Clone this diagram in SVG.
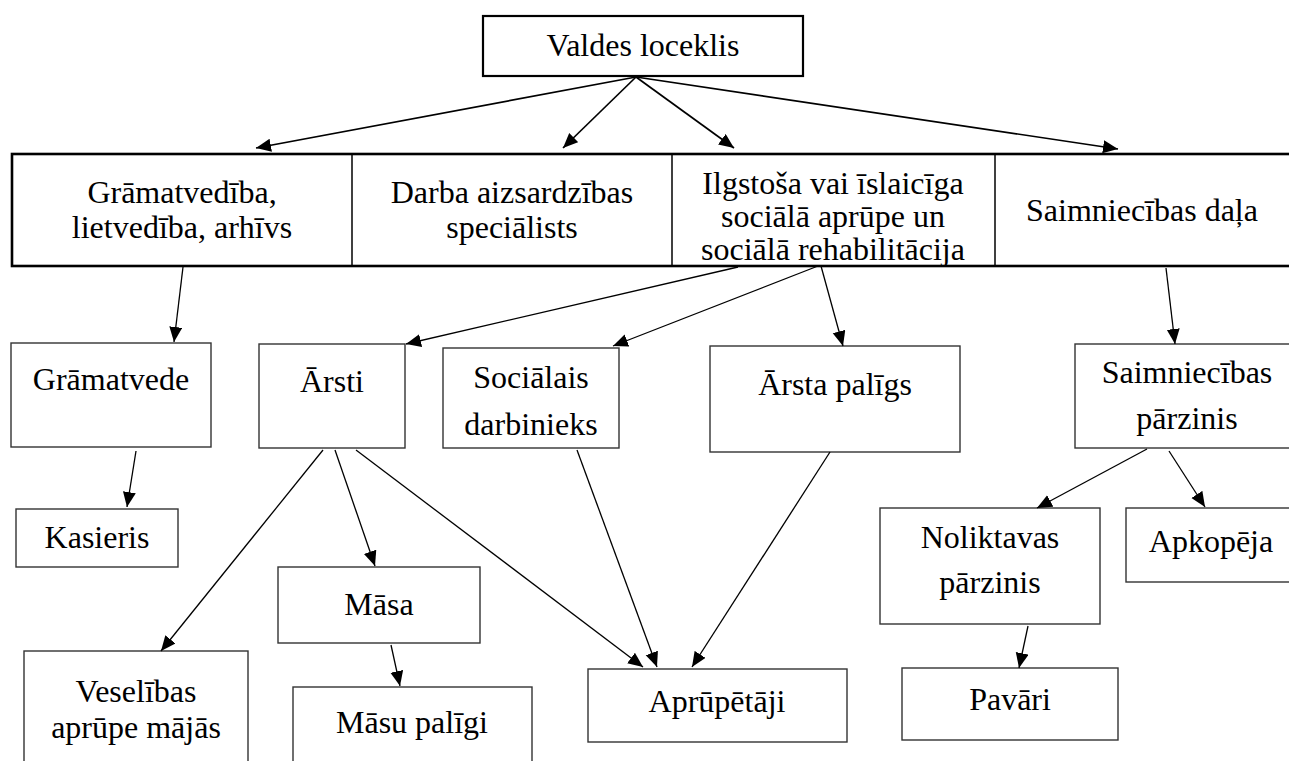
<svg xmlns="http://www.w3.org/2000/svg" width="1289" height="761" viewBox="0 0 1289 761">
<defs>
<marker id="ah" markerUnits="userSpaceOnUse" markerWidth="16" markerHeight="14" refX="15" refY="6.5" orient="auto">
<path d="M0,0 L15,6.5 L0,13 z" fill="#000"/>
</marker>
<style>
text{font-family:"Liberation Serif","Times New Roman",serif;font-size:32px;fill:#000;text-anchor:middle}
.nb{fill:#fff;stroke:#333;stroke-width:1.4}
.tb{fill:#fff;stroke:#000;stroke-width:2.2}
.row{fill:#fff;stroke:#000;stroke-width:2.6}
.div{stroke:#000;stroke-width:1.5}
.c{stroke:#000;stroke-width:1.3;fill:none;marker-end:url(#ah)}
.ct{stroke:#000;stroke-width:1.7;fill:none;marker-end:url(#ah)}
</style>
</defs>
<rect width="1289" height="761" fill="#fff"/>

<g id="n-valdes">
<rect class="tb" x="483" y="16" width="320" height="60"/>
<text x="643" y="56">Valdes loceklis</text>
</g>

<g id="n-row">
<rect class="row" x="12" y="154" width="1295" height="112"/>
<line class="div" x1="352" y1="154" x2="352" y2="266"/>
<line class="div" x1="672" y1="154" x2="672" y2="266"/>
<line class="div" x1="995" y1="154" x2="995" y2="266"/>
</g>
<g id="n-gramatvediba">
<text x="182" y="203">Grāmatvedība,</text>
<text x="182" y="238">lietvedība, arhīvs</text>
</g>
<g id="n-darba">
<text x="512" y="203">Darba aizsardzības</text>
<text x="512" y="238">speciālists</text>
</g>
<g id="n-ilgstosa">
<text x="833" y="194">Ilgstoša vai īslaicīga</text>
<text x="833" y="227">sociālā aprūpe un</text>
<text x="833" y="260">sociālā rehabilitācija</text>
</g>
<g id="n-saimniecibas-dala">
<text x="1142" y="221">Saimniecības daļa</text>
</g>

<g id="n-gramatvede">
<rect class="nb" x="11" y="343" width="200" height="104"/>
<text x="111" y="390">Grāmatvede</text>
</g>
<g id="n-kasieris">
<rect class="nb" x="16" y="509" width="162" height="58"/>
<text x="97" y="548">Kasieris</text>
</g>
<g id="n-arsti">
<rect class="nb" x="259" y="344" width="146" height="104"/>
<text x="332" y="392">Ārsti</text>
</g>
<g id="n-socialais">
<rect class="nb" x="443" y="348" width="176" height="100"/>
<text x="531" y="388">Sociālais</text>
<text x="531" y="435">darbinieks</text>
</g>
<g id="n-arsta-paligs">
<rect class="nb" x="710" y="346" width="250" height="106"/>
<text x="835" y="395">Ārsta palīgs</text>
</g>
<g id="n-saimniecibas-parzinis">
<rect class="nb" x="1075" y="344" width="230" height="104"/>
<text x="1187" y="383">Saimniecības</text>
<text x="1187" y="429">pārzinis</text>
</g>
<g id="n-noliktavas">
<rect class="nb" x="880" y="508" width="220" height="116"/>
<text x="990" y="548">Noliktavas</text>
<text x="990" y="593">pārzinis</text>
</g>
<g id="n-apkopeja">
<rect class="nb" x="1126" y="508" width="175" height="74"/>
<text x="1211" y="552">Apkopēja</text>
</g>
<g id="n-pavari">
<rect class="nb" x="902" y="668" width="216" height="72"/>
<text x="1010" y="710">Pavāri</text>
</g>
<g id="n-masa">
<rect class="nb" x="278" y="567" width="202" height="76"/>
<text x="379" y="615">Māsa</text>
</g>
<g id="n-veselibas">
<rect class="nb" x="24" y="651" width="224" height="120"/>
<text x="136" y="702">Veselības</text>
<text x="136" y="738">aprūpe mājās</text>
</g>
<g id="n-masu-paligi">
<rect class="nb" x="293" y="687" width="239" height="90"/>
<text x="412" y="733">Māsu palīgi</text>
</g>
<g id="n-aprupetaji">
<rect class="nb" x="588" y="669" width="259" height="73"/>
<text x="717" y="712">Aprūpētāji</text>
</g>

<g id="connectors">
<line class="ct" x1="636" y1="77" x2="256" y2="148"/>
<line class="ct" x1="636" y1="77" x2="563" y2="148"/>
<line class="ct" x1="636" y1="77" x2="734" y2="148"/>
<line class="ct" x1="636" y1="77" x2="1118" y2="149"/>
<line class="c" x1="183" y1="267" x2="174" y2="342"/>
<line class="c" x1="738" y1="267" x2="406" y2="344"/>
<line class="c" x1="818" y1="266" x2="613" y2="346"/>
<line class="c" x1="821" y1="266" x2="843" y2="346"/>
<line class="c" x1="1166" y1="268" x2="1175" y2="344"/>
<line class="c" x1="136" y1="451" x2="127" y2="507"/>
<line class="c" x1="323" y1="450" x2="161" y2="651"/>
<line class="c" x1="335" y1="450" x2="375" y2="566"/>
<line class="c" x1="356" y1="450" x2="643" y2="667"/>
<line class="c" x1="577" y1="450" x2="657" y2="667"/>
<line class="c" x1="830" y1="452" x2="692" y2="667"/>
<line class="c" x1="391" y1="645" x2="400" y2="686"/>
<line class="c" x1="1147" y1="449" x2="1037" y2="508"/>
<line class="c" x1="1169" y1="451" x2="1205" y2="507"/>
<line class="c" x1="1028" y1="626" x2="1019" y2="668"/>
</g>
</svg>
